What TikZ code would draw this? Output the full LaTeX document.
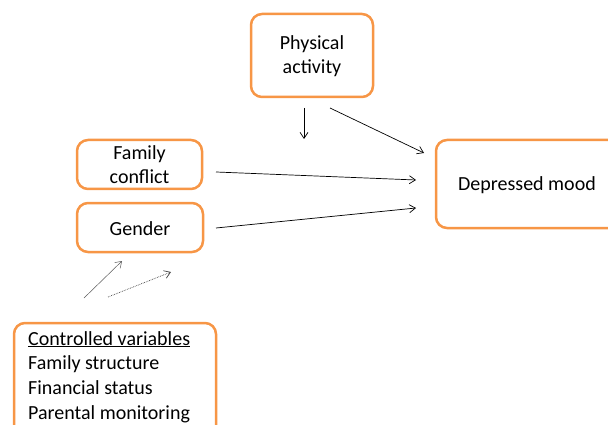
\documentclass[tikz,border=0pt]{standalone}
\usepackage{fontspec}
\setmainfont{Carlito}
\usetikzlibrary{arrows.meta}
\definecolor{boxorange}{HTML}{F79646}
\begin{document}
\begin{tikzpicture}[x=1pt,y=-1pt,
  box/.style={draw=boxorange,line width=2.5pt,rounded corners=11pt,fill=white},
  lbl/.style={font=\fontsize{20}{24}\selectfont,align=center,inner sep=0pt},
  arr/.style={-{Straight Barb[length=6pt,width=8pt]},line width=0.7pt,black}]
\useasboundingbox (0,0) rectangle (608,425);
\clip (0,0) rectangle (608,425);
% boxes
\draw[box] (251,14) rectangle (373,97);
\node[lbl] (pa) at (312,56) {Physical\\activity};
\draw[box] (77,140) rectangle (202,189);
\node[lbl] (fc) at (139.5,165) {Family\\conflict};
\draw[box] (77,203) rectangle (203,252);
\node[lbl] (gd) at (140,229) {Gender};
\draw[box] (436,140) rectangle (640,228);
\node[lbl] (dm) at (527,185) {Depressed mood};
\draw[box] (14,323) rectangle (216,450);
\node[lbl,align=left,anchor=north west,font=\fontsize{20}{24.7}\selectfont] (cv) at (28,331) {\underline{Controlled variables}\\Family structure\\Financial status\\Parental monitoring};
% connector end points
\coordinate (a1s) at (304,108);
\coordinate (a1e) at (304,139);
\coordinate (a2s) at (330,108);
\coordinate (a2e) at (424,153);
\coordinate (a3s) at (216,172);
\coordinate (a3e) at (416,180);
\coordinate (a4s) at (216,228);
\coordinate (a4e) at (416,208);
\coordinate (a5s) at (84,298);
\coordinate (a5e) at (122,261);
\coordinate (a6s) at (108,297);
\coordinate (a6e) at (171,272);
\draw[arr] (a1s) -- (a1e);
\draw[arr] (a2s) -- (a2e);
\draw[arr] (a3s) -- (a3e);
\draw[arr] (a4s) -- (a4e);
\draw[arr,line width=0.5pt,gray!70!black] (a5s) -- (a5e);
\draw[arr,line width=0.7pt,densely dotted,gray!50!black] (a6s) -- (a6e);
\end{tikzpicture}
\end{document}
